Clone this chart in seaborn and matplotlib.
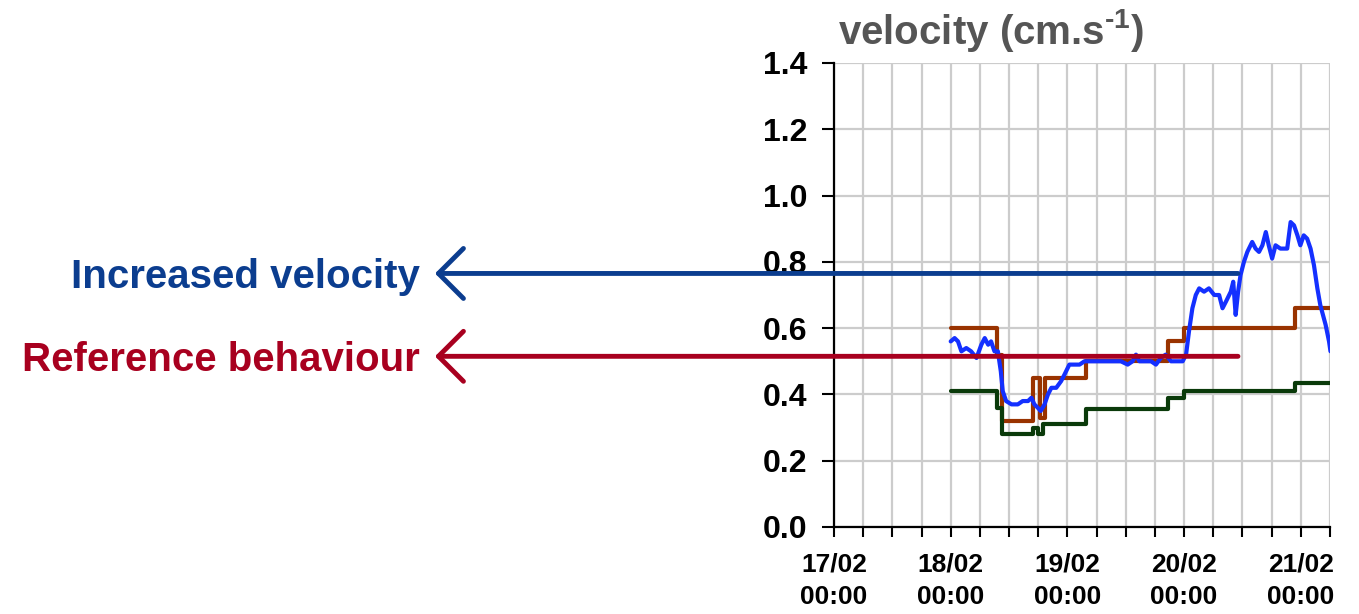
import numpy as np
import pandas as pd
import matplotlib
matplotlib.use("Agg")
import matplotlib.pyplot as plt
import matplotlib.dates as mdates
import seaborn as sns

# hours since 17/02 00:00
BROWN_HOURS = [24.0, 33.5, 34.5, 40.9, 42.3, 43.3, 51.8, 68.6, 72.0, 94.9, 102.4]
BROWN_VALS = [0.60, 0.52, 0.32, 0.45, 0.33, 0.45, 0.50, 0.56, 0.60, 0.66, 0.66]

GREEN_HOURS = [24.0, 33.5, 34.5, 40.9, 42.0, 43.0, 51.8, 68.6, 72.0, 94.9, 102.4]
GREEN_VALS = [0.41, 0.36, 0.28, 0.30, 0.28, 0.31, 0.355, 0.39, 0.41, 0.435, 0.435]

BLUE_HOURS = [24.0, 24.8, 25.5, 26.2, 27.2, 28.2, 29.3, 30.3, 31.0, 31.7, 32.3, 33.0,
              33.7, 34.3, 34.7, 35.4, 36.5, 37.8, 38.8, 39.9, 40.6, 41.2, 41.9, 42.5,
              43.3, 44.0, 44.7, 45.7, 46.7, 47.4, 48.4, 49.4, 50.5, 51.5, 52.5, 53.5,
              54.9, 56.3, 57.6, 59.0, 60.4, 61.4, 62.1, 62.8, 64.1, 65.2, 66.2, 67.2,
              68.2, 69.3, 70.6, 71.7, 72.4, 73.0, 73.7, 74.4, 75.1, 76.1, 77.1, 78.2,
              79.2, 79.9, 80.6, 81.6, 82.1, 82.6, 83.1, 83.6, 84.3, 85.0, 86.0, 86.7,
              87.4, 88.1, 88.8, 89.4, 90.1, 90.8, 91.8, 93.2, 93.9, 94.6, 95.3, 95.9,
              96.6, 97.3, 98.0, 98.7, 99.4, 100.0, 101.1, 101.8, 102.1]
BLUE_VALS = [0.56, 0.57, 0.56, 0.53, 0.54, 0.53, 0.51, 0.55, 0.57, 0.55, 0.56, 0.53,
             0.53, 0.47, 0.41, 0.38, 0.37, 0.37, 0.38, 0.38, 0.39, 0.37, 0.36, 0.35,
             0.37, 0.40, 0.42, 0.42, 0.44, 0.46, 0.49, 0.49, 0.49, 0.50, 0.50, 0.50,
             0.50, 0.50, 0.50, 0.50, 0.49, 0.50, 0.52, 0.50, 0.50, 0.50, 0.49, 0.51,
             0.52, 0.50, 0.50, 0.50, 0.52, 0.59, 0.66, 0.70, 0.72, 0.71, 0.72, 0.70,
             0.70, 0.66, 0.68, 0.71, 0.74, 0.64, 0.71, 0.76, 0.80, 0.83, 0.86, 0.84,
             0.83, 0.85, 0.89, 0.85, 0.81, 0.85, 0.84, 0.84, 0.92, 0.91, 0.88, 0.85,
             0.88, 0.87, 0.84, 0.79, 0.72, 0.67, 0.61, 0.56, 0.53]

Y_TICKS = [0.0, 0.2, 0.4, 0.6, 0.8, 1.0, 1.2, 1.4]
START = pd.Timestamp("2008-02-17 00:00")
END_HOURS = 102

ARROW_LEVELS = [0.765, 0.515]
ARROW_LABELS = ["Increased velocity", "Reference behaviour"]
ARROW_COLORS = ["#0b3d8f", "#a8001f"]


def to_frame(hours, vals):
    return pd.DataFrame({
        "time": START + pd.to_timedelta(hours, unit="h"),
        "velocity": vals,
    })


sns.set_style("white")
plt.rcParams["font.family"] = ["Liberation Sans", "DejaVu Sans"]
plt.rcParams["mathtext.fontset"] = "custom"
plt.rcParams["mathtext.rm"] = "Liberation Sans:bold"
plt.rcParams["mathtext.default"] = "rm"
plt.rcParams["xtick.color"] = "black"
plt.rcParams["ytick.color"] = "black"
plt.rcParams["xtick.labelcolor"] = "black"
plt.rcParams["ytick.labelcolor"] = "black"

fig = plt.figure(figsize=(13.59, 6.14), dpi=100)
ax = fig.add_axes([834 / 1359, 1 - 527 / 614, 496 / 1359, 464 / 614])

sns.lineplot(data=to_frame(BROWN_HOURS, BROWN_VALS), x="time", y="velocity",
             color="#993300", lw=3, drawstyle="steps-post", ax=ax)
sns.lineplot(data=to_frame(GREEN_HOURS, GREEN_VALS), x="time", y="velocity",
             color="#0a3a0a", lw=3, drawstyle="steps-post", ax=ax)
sns.lineplot(data=to_frame(BLUE_HOURS, BLUE_VALS), x="time", y="velocity",
             color="#1430ff", lw=3, ax=ax)

ax.set_xlim(START, START + pd.Timedelta(hours=END_HOURS))
ax.set_ylim(0, 1.4)
ax.set_yticks(Y_TICKS)
ax.set_yticklabels([f"{t:.1f}" for t in Y_TICKS], fontsize=23,
                   fontweight="bold", color="black")

ax.xaxis.set_major_locator(mdates.DayLocator())
ax.xaxis.set_minor_locator(mdates.HourLocator(byhour=[6, 12, 18]))
ax.xaxis.set_major_formatter(mdates.DateFormatter("%d/%m\n%H:%M"))
for lab in ax.get_xticklabels():
    lab.set_fontsize(19)
    lab.set_fontweight("bold")
    lab.set_color("black")
    lab.set_linespacing(1.45)

ax.grid(True, which="both", color="#cccccc", lw=1.6)
ax.set_axisbelow(True)
ax.tick_params(axis="x", which="both", direction="out", length=7, width=1.5,
               color="black", pad=11, bottom=True)
ax.tick_params(axis="y", direction="out", length=9, width=1.5, color="black",
               pad=10, left=True)
for side in ["top", "right"]:
    ax.spines[side].set_visible(False)
for side in ["left", "bottom"]:
    ax.spines[side].set_color("black")
    ax.spines[side].set_linewidth(1.6)
ax.set_xlabel("")
ax.set_ylabel("")

fig.text(838 / 1359, 1 - 31 / 614, r"velocity (cm.s$^{\text{-1}}$)", fontsize=29,
         fontweight="bold", color="#555555", ha="left", va="center")

# annotation arrows and labels
line_end = 0.8145
for level, label, color in zip(ARROW_LEVELS, ARROW_LABELS, ARROW_COLORS):
    ax.annotate("", xy=(435, level), xycoords=("figure pixels", "data"),
                xytext=(line_end, level), textcoords=("axes fraction", "data"),
                arrowprops=dict(arrowstyle="->,head_length=1.0,head_width=1.0",
                                color=color, lw=3.5, mutation_scale=18,
                                shrinkA=0, shrinkB=0),
                annotation_clip=False, zorder=10)
    ax.annotate(label, xy=(420, level), xycoords=("figure pixels", "data"),
                ha="right", va="center_baseline", fontsize=29, fontweight="bold",
                color=color, annotation_clip=False)

fig.savefig("out.png", dpi=100)
